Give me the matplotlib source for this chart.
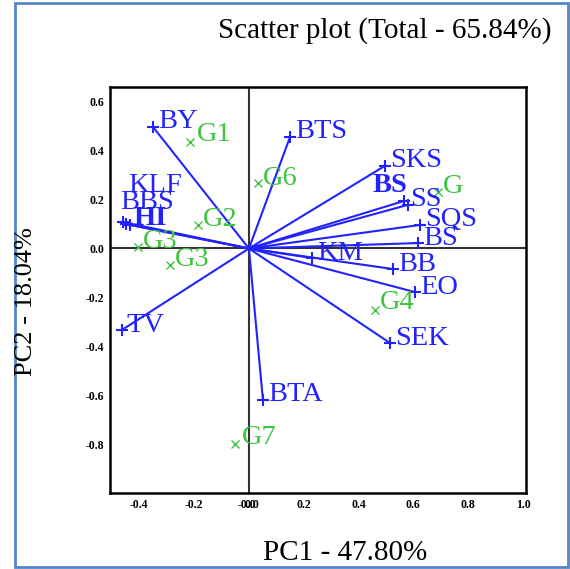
import matplotlib.pyplot as plt
from matplotlib.patches import Rectangle

# variable loadings (blue vectors)
var_names = ['BY', 'BTS', 'SKS', 'BS', 'SS', 'SQS', 'BS', 'KM', 'BB', 'EO', 'SEK',
             'BTA', 'TV', 'KLF', 'BBS', 'HI']
var_x = [-0.350, 0.150, 0.496, 0.566, 0.580, 0.624, 0.617, 0.230, 0.526, 0.606, 0.515,
         0.051, -0.464, -0.460, -0.449, -0.434]
var_y = [0.496, 0.455, 0.337, 0.194, 0.178, 0.096, 0.022, -0.039, -0.084, -0.178, -0.386,
         -0.618, -0.333, 0.108, 0.100, 0.096]

# genotype scores (green crosses)
gen_names = ['G1', 'G2', 'G3', 'G3', 'G6', 'G', 'G4', 'G7']
gen_x = [-0.215, -0.186, -0.405, -0.288, 0.033, 0.690, 0.460, -0.051]
gen_y = [0.435, 0.096, 0.006, -0.067, 0.267, 0.231, -0.251, -0.798]

xticks = [-0.4, -0.2, -0.008, 0.012, 0.2, 0.4, 0.6, 0.8, 1.0]
xtick_labels = ['-0.4', '-0.2', '-0.0', '0.0', '0.2', '0.4', '0.6', '0.8', '1.0']
yticks = [0.6, 0.4, 0.2, 0.0, -0.2, -0.4, -0.6, -0.8]
ytick_labels = ['0.6', '0.4', '0.2', '0.0', '-0.2', '-0.4', '-0.6', '-0.8']

blue = '#2222ff'
green = '#3ec43e'
serif = 'Liberation Serif'
px = 0.72  # points per pixel at dpi 100

fig = plt.figure(figsize=(5.7, 5.69), dpi=100, facecolor='white')
fig.patches.append(Rectangle((15 / 570, 2 / 569), 553 / 570, 564 / 569, transform=fig.transFigure,
                             fill=False, edgecolor='#5585c5', linewidth=2))

ax = fig.add_axes([110 / 570, 1 - 493 / 569, 416 / 570, 406 / 569])
ax.set_xlim(-0.507, 1.011)
ax.set_ylim(-0.998, 0.659)
ax.axhline(0, color='#333333', lw=1.5, zorder=1)
ax.axvline(0, color='#333333', lw=1.5, zorder=1)
for s in ax.spines.values():
    s.set_linewidth(1.8)

# label offsets in pixels (dx right, dy up)
var_off = {13: (5, 37), 14: (-6, 21), 15: (3, 6), 3: (-31, 15), 4: (2, 5)}
for i, (n, x, y) in enumerate(zip(var_names, var_x, var_y)):
    ax.plot([0, x], [0, y], color=blue, lw=1.5, zorder=2)
    ax.plot(x, y, marker='+', color=blue, ms=9, mew=1.5, zorder=3)
    dx, dy = var_off.get(i, (5, 5))
    ax.annotate(n, (x, y), xytext=(dx * px, dy * px), textcoords='offset points',
                ha='left', va='center', color=blue, fontsize=20.5, family=serif,
                fontweight='bold' if i in (3, 15) else 'normal', zorder=4)

gen_off = {0: (7, 7), 6: (5, 7), 7: (7, 6)}
for i, (n, x, y) in enumerate(zip(gen_names, gen_x, gen_y)):
    ax.plot(x, y, marker='x', color=green, ms=5.5, mew=1.0, zorder=3)
    dx, dy = gen_off.get(i, (5, 5))
    ax.annotate(n, (x, y), xytext=(dx * px, dy * px), textcoords='offset points',
                ha='left', va='center', color=green, fontsize=20.5, family=serif, zorder=4)

ax.set_xticks(xticks)
ax.set_xticklabels(xtick_labels, family=serif, fontsize=8.5, fontweight='bold')
ax.set_yticks(yticks)
ax.set_yticklabels(ytick_labels, family=serif, fontsize=8.5, fontweight='bold')
ax.tick_params(length=0, pad=4)

fig.text(552 / 570, 1 - 31 / 569, 'Scatter plot (Total - 65.84%)', ha='right', va='center',
         family=serif, fontsize=21)
fig.text(345 / 570, 1 - 553 / 569, 'PC1 - 47.80%', ha='center', va='center',
         family=serif, fontsize=21)
fig.text(26 / 570, 1 - 302 / 569, 'PC2 - 18.04%', ha='center', va='center',
         family=serif, fontsize=19, rotation=90)

plt.savefig('out.png', dpi=100)
